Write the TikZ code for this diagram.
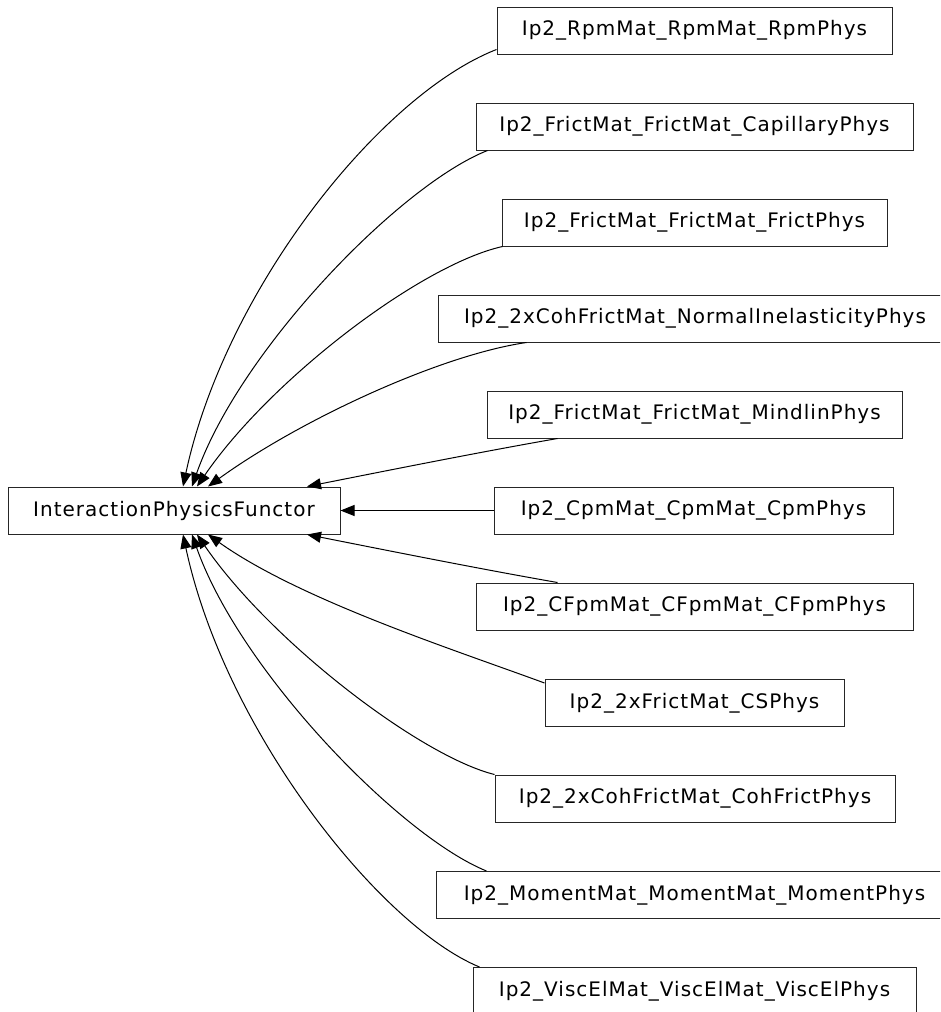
\documentclass[tikz,border=0pt]{standalone}
\usepackage{fontspec}
\setmainfont[LetterSpace=5]{DejaVu Sans}
\usetikzlibrary{arrows.meta,calc}
\begin{document}
\begin{tikzpicture}[x=1pt,y=-1pt,
  cls/.style={draw=black!85, line width=1pt, minimum height=47pt, inner sep=0pt,
    font=\fontsize{20}{24}\selectfont},
  edge/.style={draw=black, line width=1pt, -{Triangle[length=14pt,width=11pt]}}]
\fill[white] (0,0) rectangle (940,1012);
\useasboundingbox (0,0) rectangle (940,1012);
\clip (0,0) rectangle (940,1012);

\node[cls, minimum width=332pt] (base) at (174,510.5) {InteractionPhysicsFunctor};

\node[cls, minimum width=395pt] (n1) at (694.5,30.5) {Ip2\_RpmMat\_RpmMat\_RpmPhys};
\node[cls, minimum width=437pt] (n2) at (694.5,126.5) {Ip2\_FrictMat\_FrictMat\_CapillaryPhys};
\node[cls, minimum width=385pt] (n3) at (694.5,222.5) {Ip2\_FrictMat\_FrictMat\_FrictPhys};
\node[cls, minimum width=514pt] (n4) at (695,318.5) {Ip2\_2xCohFrictMat\_NormalInelasticityPhys};
\node[cls, minimum width=415pt] (n5) at (694.5,414.5) {Ip2\_FrictMat\_FrictMat\_MindlinPhys};
\node[cls, minimum width=399pt] (n6) at (693.5,510.5) {Ip2\_CpmMat\_CpmMat\_CpmPhys};
\node[cls, minimum width=437pt] (n7) at (694.5,606.5) {Ip2\_CFpmMat\_CFpmMat\_CFpmPhys};
\node[cls, minimum width=299pt] (n8) at (694.5,703) {Ip2\_2xFrictMat\_CSPhys};
\node[cls, minimum width=400pt] (n9) at (695,798.5) {Ip2\_2xCohFrictMat\_CohFrictPhys};
\node[cls, minimum width=517pt] (n10) at (694.5,895) {Ip2\_MomentMat\_MomentMat\_MomentPhys};
\node[cls, minimum width=443pt] (n11) at (694.5,991) {Ip2\_ViscElMat\_ViscElMat\_ViscElPhys};

\draw[edge] ([yshift=5pt]n1.south west) .. controls (380,95) and (225,290) .. ([xshift=9pt]base.north);
\draw[edge] ([xshift=12pt]n2.south west) .. controls (400,185) and (240,350) .. ([xshift=18pt]base.north);
\draw[edge] ([xshift=1pt]n3.south west) .. controls (420,265) and (270,380) .. ([xshift=23pt]base.north);
\draw[edge] ([xshift=89pt]n4.south west) .. controls (440,355) and (300,420) .. ([xshift=34pt]base.north);
\draw[edge] ([xshift=71pt]n5.south west) .. controls (480,452) and (380,472) .. ([xshift=133pt]base.north);
\draw[edge] (n6.west) -- (base.east);
\draw[edge] ([xshift=82pt]n7.north west) .. controls (480,569) and (380,549) .. ([xshift=133pt]base.south);
\draw[edge] ([yshift=-4pt]n8.north west) .. controls (455,650) and (300,600) .. ([xshift=34pt]base.south);
\draw[edge] (n9.north west) .. controls (420,756) and (270,641) .. ([xshift=23pt]base.south);
\draw[edge] ([xshift=51pt]n10.north west) .. controls (400,836) and (240,671) .. ([xshift=18pt]base.south);
\draw[edge] ([xshift=7pt]n11.north west) .. controls (380,926) and (225,731) .. ([xshift=9pt]base.south);
\end{tikzpicture}
\end{document}
